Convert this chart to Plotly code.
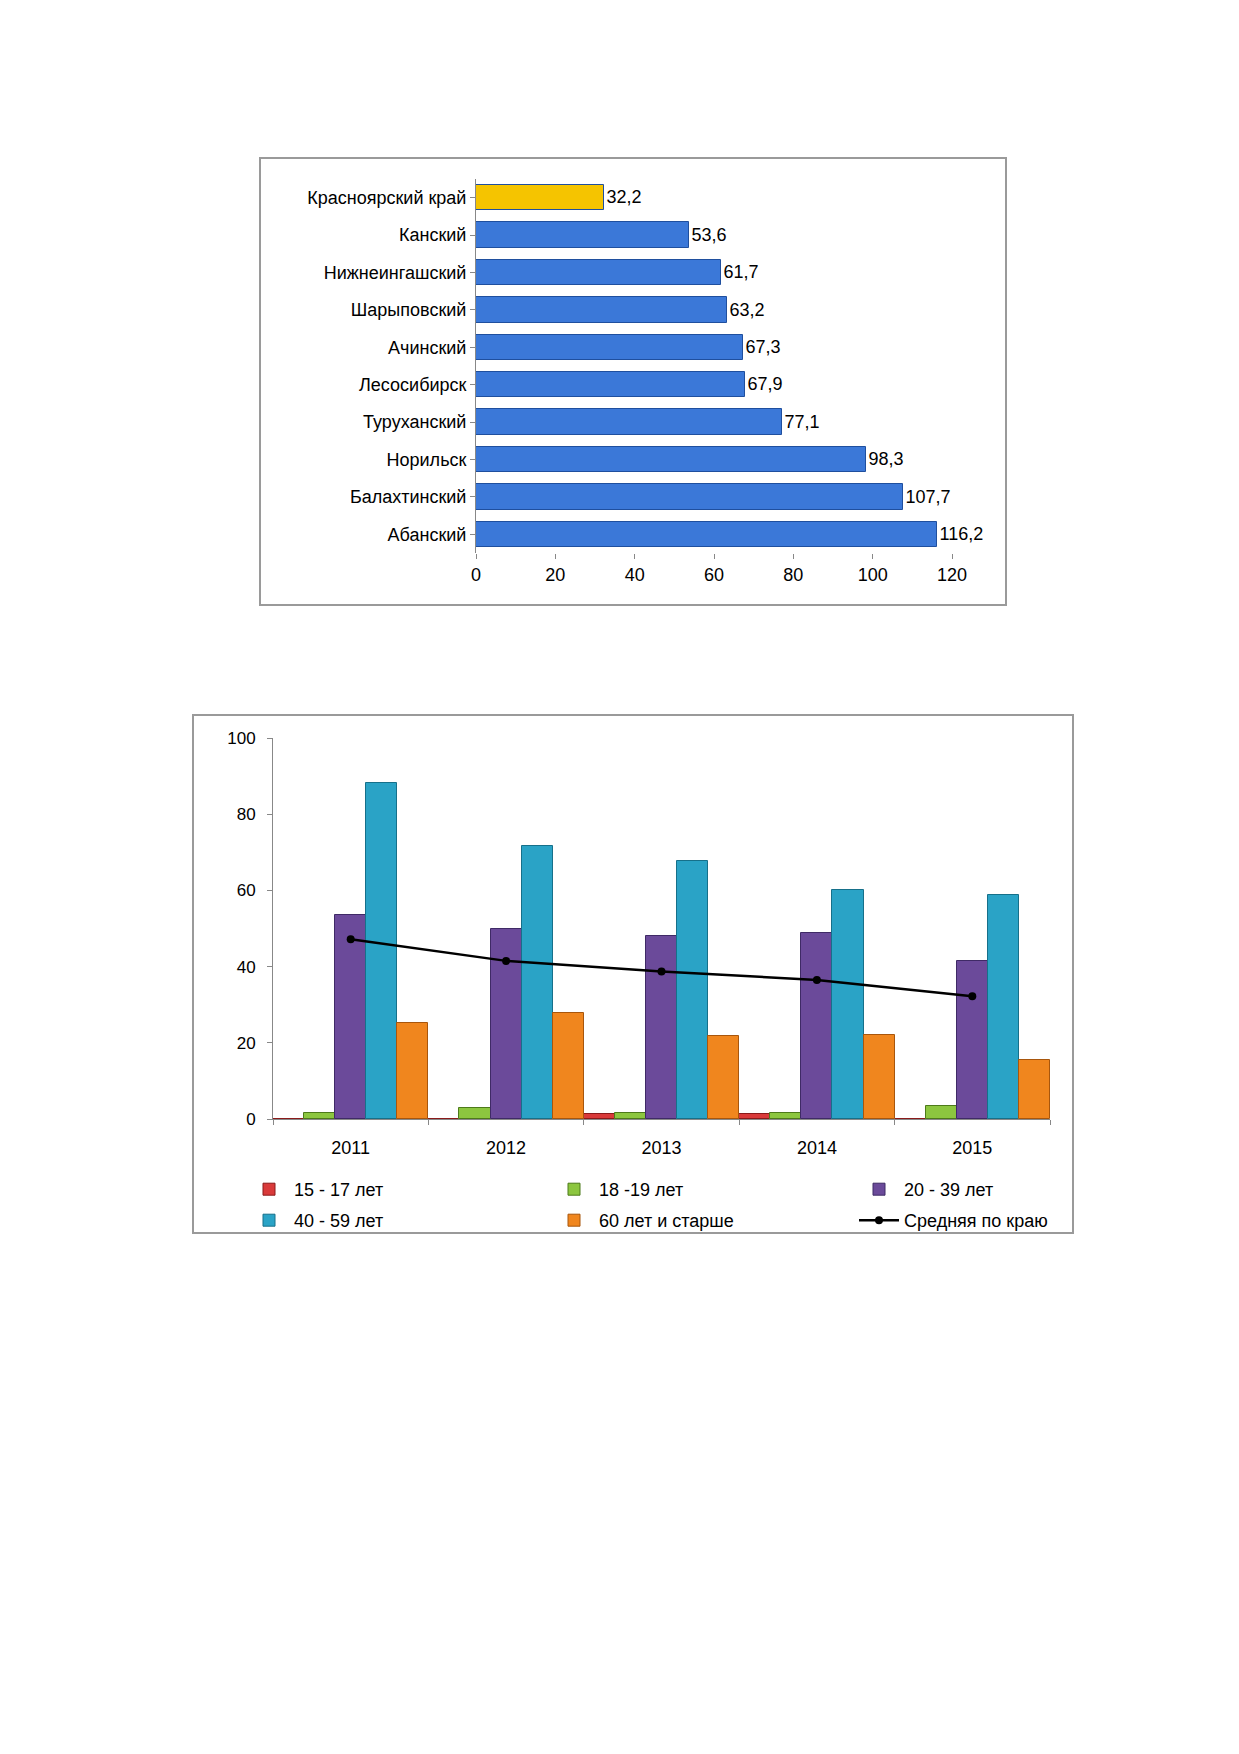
import plotly.graph_objects as go

# top chart: рейтинг территорий
territories = ["Красноярский край", "Канский", "Нижнеингашский", "Шарыповский", "Ачинский",
               "Лесосибирск", "Туруханский", "Норильск", "Балахтинский", "Абанский"]
rates = [32.2, 53.6, 61.7, 63.2, 67.3, 67.9, 77.1, 98.3, 107.7, 116.2]

# bottom chart: возрастные группы
years = ["2011", "2012", "2013", "2014", "2015"]
age_15_17 = [0, 0, 1.2, 1.3, 0]
age_18_19 = [1.5, 3.0, 1.5, 1.5, 3.5]
age_20_39 = [53.6, 50.0, 48.0, 48.8, 41.6]
age_40_59 = [88.3, 71.6, 67.7, 60.0, 58.8]
age_60_plus = [25.3, 27.8, 21.7, 22.0, 15.6]
avg_region = [47.2, 41.5, 38.7, 36.5, 32.2]

W, H = 1239, 1754


def px(x):
    return x / W


def py(y):
    return 1 - y / H


fig = go.Figure()

colors_top = ["#f5c400"] + ["#3b78d8"] * (len(territories) - 1)
fig.add_trace(go.Bar(
    x=rates, y=territories, orientation="h", xaxis="x", yaxis="y",
    marker=dict(color=colors_top, line=dict(color="#1f4f9e", width=1)),
    text=[f"{v:.1f}".replace(".", ",") for v in rates], textposition="outside",
    textfont=dict(size=18, color="#000"), cliponaxis=False, showlegend=False, width=0.68,
))

series = [
    ("15 - 17 лет", age_15_17, "#d93a3a", "#8b1a1a"),
    ("18 -19 лет", age_18_19, "#8cc63f", "#4d7a1a"),
    ("20 - 39 лет", age_20_39, "#6b4a9a", "#3f2a66"),
    ("40 - 59 лет", age_40_59, "#2aa3c6", "#16708a"),
    ("60 лет и старше", age_60_plus, "#f0861e", "#a8560c"),
]
for i, (name, vals, c, lc) in enumerate(series):
    fig.add_trace(go.Bar(
        x=years, y=vals, name=name, xaxis="x2", yaxis="y2",
        marker=dict(color=c, line=dict(color=lc, width=1)),
        legend="legend" if i < 3 else "legend2",
    ))

fig.add_trace(go.Scatter(
    x=years, y=avg_region, name="Средняя по краю", xaxis="x2", yaxis="y2",
    mode="lines+markers", line=dict(color="#000", width=2.5),
    marker=dict(size=8, color="#000"), legend="legend2",
))

narrow = "Liberation Sans Narrow, Liberation Sans"
box = dict(type="rect", xref="paper", yref="paper", line=dict(color="#9a9a9a", width=2))
leg = dict(orientation="h", x=px(236), xanchor="left", yanchor="top",
           entrywidth=250, entrywidthmode="pixels", itemwidth=40,
           bgcolor="rgba(0,0,0,0)", font=dict(size=18, family=narrow))
fig.update_layout(
    width=W, height=H, margin=dict(l=0, r=0, t=0, b=0, autoexpand=False),
    paper_bgcolor="white", plot_bgcolor="white",
    font=dict(family="Liberation Sans, Arial", color="#000"),
    barmode="group", bargap=0.0, bargroupgap=0.0,
    xaxis=dict(domain=[px(468), px(944)], range=[0, 120], dtick=20, showgrid=False,
               tickfont=dict(size=18), ticks="outside", ticklen=5, tickcolor="#888",
               showline=False, zeroline=False, anchor="y"),
    yaxis=dict(domain=[py(545), py(171)], autorange="reversed", tickfont=dict(size=18),
               showline=True, linecolor="#888", ticks="outside", ticklen=5,
               tickcolor="#888", anchor="x"),
    xaxis2=dict(domain=[px(265), px(1042)], anchor="y2", showline=True, linecolor="#888",
                ticks="outside", tickcolor="#888", tickfont=dict(size=18, family=narrow),
                tickson="boundaries", ticklen=5, ticklabelstandoff=12),
    yaxis2=dict(domain=[py(1111), py(730)], range=[0, 100], dtick=20, anchor="x2",
                showline=True, linecolor="#888", ticks="outside", tickcolor="#888",
                showgrid=False, zeroline=False, tickfont=dict(size=17, family=narrow),
                ticklabelstandoff=8),
    legend=dict(leg, y=py(1163)),
    legend2=dict(leg, y=py(1194)),
    shapes=[
        dict(box, x0=px(252), x1=px(998), y0=py(597), y1=py(150)),
        dict(box, x0=px(185), x1=px(1065), y0=py(1225), y1=py(707)),
    ],
)

fig.write_html("out.html")
